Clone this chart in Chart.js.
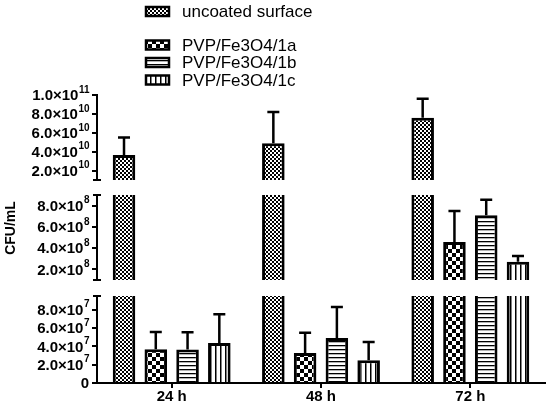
<!DOCTYPE html>
<html>
<head>
<meta charset="utf-8">
<script src="https://cdn.jsdelivr.net/npm/chart.js@4.4.1/dist/chart.umd.min.js"></script>
<style>
  html, body { margin: 0; padding: 0; background: #fff; }
  #wrap { position: relative; width: 550px; height: 407px; overflow: hidden; }
  .panel { position: absolute; left: 0; width: 550px; }
  .panel canvas { display: block; }
</style>
</head>
<body>
<div id="wrap">
  <div class="panel" style="top:0;height:185px"><canvas id="topChart"></canvas></div>
  <div class="panel" style="top:185px;height:100px"><canvas id="midChart"></canvas></div>
  <div class="panel" style="top:285px;height:122px"><canvas id="lowChart"></canvas></div>
</div>
<script>
// Datos (CFU/mL, media y desviación superior)
const categories = ['24 h', '48 h', '72 h'];
const seriesLabels = ['uncoated surface', 'PVP/Fe3O4/1a', 'PVP/Fe3O4/1b', 'PVP/Fe3O4/1c'];

const uncoated    = [3.65e10, 4.9e10, 7.6e10];
const uncoatedErr = [1.85e10, 3.3e10, 2.0e10];
const fe1a        = [3.68e7, 3.28e7, 4.58e8];
const fe1aErr     = [1.9e7, 2.22e7, 2.92e8];
const fe1b        = [3.65e7, 4.92e7, 7.1e8];
const fe1bErr     = [1.9e7, 3.38e7, 1.46e8];
const fe1c        = [4.37e7, 2.48e7, 2.72e8];
const fe1cErr     = [3.13e7, 2.0e7, 0.53e8];

// Ejes partidos: rango y marcas de cada tramo (arriba, medio, abajo)
const panelMin   = [1e10, 1e8, 0];
const panelMax   = [1e11, 9e8, 9.5e7];
const panelTicks = [
  [2e10, 4e10, 6e10, 8e10, 1e11],
  [2e8, 4e8, 6e8, 8e8],
  [0, 2e7, 4e7, 6e7, 8e7]
];

const seriesValues = [uncoated, fe1a, fe1b, fe1c];
const seriesErrors = [uncoatedErr, fe1aErr, fe1bErr, fe1cErr];

const family = '"Liberation Sans", Arial, Helvetica, sans-serif';
const AXIS_X = 97;

// Tramas de relleno
function makePattern(kind) {
  const c = document.createElement('canvas');
  const g = c.getContext('2d');
  if (kind === 'fine') {
    c.width = c.height = 4;
    g.fillStyle = '#fff'; g.fillRect(0, 0, 4, 4);
    g.fillStyle = '#000'; g.fillRect(0, 0, 2, 2); g.fillRect(2, 2, 2, 2);
  } else if (kind === 'check') {
    c.width = c.height = 8;
    g.fillStyle = '#fff'; g.fillRect(0, 0, 8, 8);
    g.fillStyle = '#000'; g.fillRect(0, 0, 4, 4); g.fillRect(4, 4, 4, 4);
  } else if (kind === 'hlines') {
    c.width = 4; c.height = 4;
    g.fillStyle = '#fff'; g.fillRect(0, 0, 4, 4);
    g.fillStyle = '#000'; g.fillRect(0, 0, 4, 1.3);
  } else {
    c.width = 5; c.height = 4;
    g.fillStyle = '#fff'; g.fillRect(0, 0, 5, 4);
    g.fillStyle = '#000'; g.fillRect(0, 0, 1.5, 4);
  }
  return document.createElement('canvas').getContext('2d').createPattern(c, 'repeat');
}
const patterns = ['fine', 'check', 'hlines', 'vlines'].map(makePattern);

// Barras de error (solo la mitad superior)
const errorBars = {
  id: 'errorBars',
  afterDatasetsDraw(chart) {
    const { ctx, chartArea: a, scales: { y } } = chart;
    const clamp = v => Math.max(a.top - 20, Math.min(a.bottom + 20, v));
    ctx.save();
    ctx.beginPath();
    ctx.rect(a.left, a.top, a.right - a.left, a.bottom - a.top);
    ctx.clip();
    ctx.strokeStyle = '#000';
    ctx.lineWidth = 2.5;
    chart.data.datasets.forEach((ds, k) => {
      chart.getDatasetMeta(k).data.forEach((bar, i) => {
        const v = ds.data[i];
        const top = v + seriesErrors[k][i];
        if (top < y.min) return;
        const y0 = clamp(y.getPixelForValue(v));
        const y1 = clamp(y.getPixelForValue(top));
        ctx.beginPath();
        ctx.moveTo(bar.x, y0); ctx.lineTo(bar.x, y1);
        ctx.moveTo(bar.x - 6, y1); ctx.lineTo(bar.x + 6, y1);
        ctx.stroke();
      });
    });
    ctx.restore();
  }
};

// Etiquetas del eje Y con exponente y remates de los cortes
const axisDecor = {
  id: 'axisDecor',
  afterDraw(chart, args, opts) {
    const { ctx, chartArea: a, scales: { y } } = chart;
    const mainFont = 'bold 15px ' + family;
    const supFont = 'bold 10px ' + family;
    const right = y.right - 8;
    ctx.save();
    ctx.fillStyle = '#000';
    ctx.textBaseline = 'middle';
    y.ticks.forEach(t => {
      const py = y.getPixelForValue(t.value);
      if (t.value === 0) {
        ctx.font = mainFont; ctx.textAlign = 'right';
        ctx.fillText('0', right, py + 1);
        return;
      }
      const exp = Math.floor(Math.log10(t.value) + 1e-9);
      const base = (t.value / Math.pow(10, exp)).toFixed(1) + '×10';
      ctx.textAlign = 'left';
      ctx.font = supFont;
      const sw = ctx.measureText(String(exp)).width;
      ctx.font = mainFont;
      const bw = ctx.measureText(base).width;
      ctx.fillText(base, right - sw - bw, py + 1);
      ctx.font = supFont;
      ctx.fillText(String(exp), right - sw + 0.5, py - 5);
    });
    // remates en los extremos cortados
    ctx.strokeStyle = '#000';
    ctx.lineWidth = 2;
    ctx.beginPath();
    if (opts.capTop) { ctx.moveTo(y.right - 4, a.top); ctx.lineTo(y.right + 4, a.top); }
    if (opts.capBottom) { ctx.moveTo(y.right - 4, a.bottom); ctx.lineTo(y.right + 4, a.bottom); }
    ctx.stroke();
    if (opts.title) {
      ctx.translate(opts.title.x, opts.title.y);
      ctx.rotate(-Math.PI / 2);
      ctx.font = 'bold 14px ' + family;
      ctx.textAlign = 'center';
      ctx.fillText(opts.title.text, 0, 0);
    }
    ctx.restore();
  }
};

// Leyenda con las tramas
const patternLegend = {
  id: 'patternLegend',
  afterDraw(chart) {
    const { ctx } = chart;
    const rows = [11.5, 45, 62.5, 80];
    ctx.save();
    ctx.font = '17px ' + family;
    ctx.textBaseline = 'middle';
    seriesLabels.forEach((lab, k) => {
      const cy = rows[k];
      ctx.fillStyle = patterns[k];
      ctx.fillRect(145, cy - 5, 25, 10);
      ctx.strokeStyle = '#000';
      ctx.lineWidth = 2.5;
      ctx.strokeRect(146, cy - 4.5, 23, 9);
      ctx.fillStyle = '#000';
      ctx.fillText(lab, 182, cy + 1);
    });
    ctx.restore();
  }
};

function makeChart(id, p, extra) {
  const datasets = seriesValues.map((vals, k) => ({
    label: seriesLabels[k],
    data: vals,
    backgroundColor: patterns[k],
    borderColor: '#000',
    borderWidth: 3,
    borderSkipped: 'start',
    categoryPercentage: 0.851,
    barPercentage: 0.71,
    clip: 0
  }));
  const isLow = p === 2;
  return new Chart(document.getElementById(id).getContext('2d'), {
    type: 'bar',
    data: { labels: categories, datasets },
    plugins: extra.plugins,
    options: {
      responsive: true,
      maintainAspectRatio: false,
      animation: false,
      layout: { padding: extra.padding },
      plugins: {
        legend: { display: false },
        tooltip: { enabled: false },
        axisDecor: extra.decor
      },
      scales: {
        x: {
          display: isLow,
          grid: { offset: false, drawOnChartArea: false, tickLength: 5, color: '#000', lineWidth: 2 },
          border: { display: true, color: '#000', width: 2 },
          ticks: { color: '#000', padding: 0, font: { family, size: 15, weight: 'bold' } },
          afterFit: s => { s.height = isLow ? 24 : 0; }
        },
        y: {
          min: panelMin[p],
          max: panelMax[p],
          afterBuildTicks: s => { s.ticks = panelTicks[p].map(v => ({ value: v })); },
          afterFit: s => { s.width = AXIS_X; },
          ticks: { display: false },
          grid: { drawOnChartArea: false, tickLength: 5, color: '#000', lineWidth: 2 },
          border: { display: true, color: '#000', width: 2 }
        }
      }
    }
  });
}

makeChart('topChart', 0, {
  padding: { top: 95, bottom: 5, left: 0, right: 5 },
  plugins: [errorBars, axisDecor, patternLegend],
  decor: { capBottom: true }
});
makeChart('midChart', 1, {
  padding: { top: 10, bottom: 5, left: 0, right: 5 },
  plugins: [errorBars, axisDecor],
  decor: { capTop: true, capBottom: true, title: { text: 'CFU/mL', x: 11, y: 43 } }
});
makeChart('lowChart', 2, {
  padding: { top: 11, bottom: 0, left: 0, right: 5 },
  plugins: [errorBars, axisDecor],
  decor: { capTop: true }
});
</script>
</body>
</html>
